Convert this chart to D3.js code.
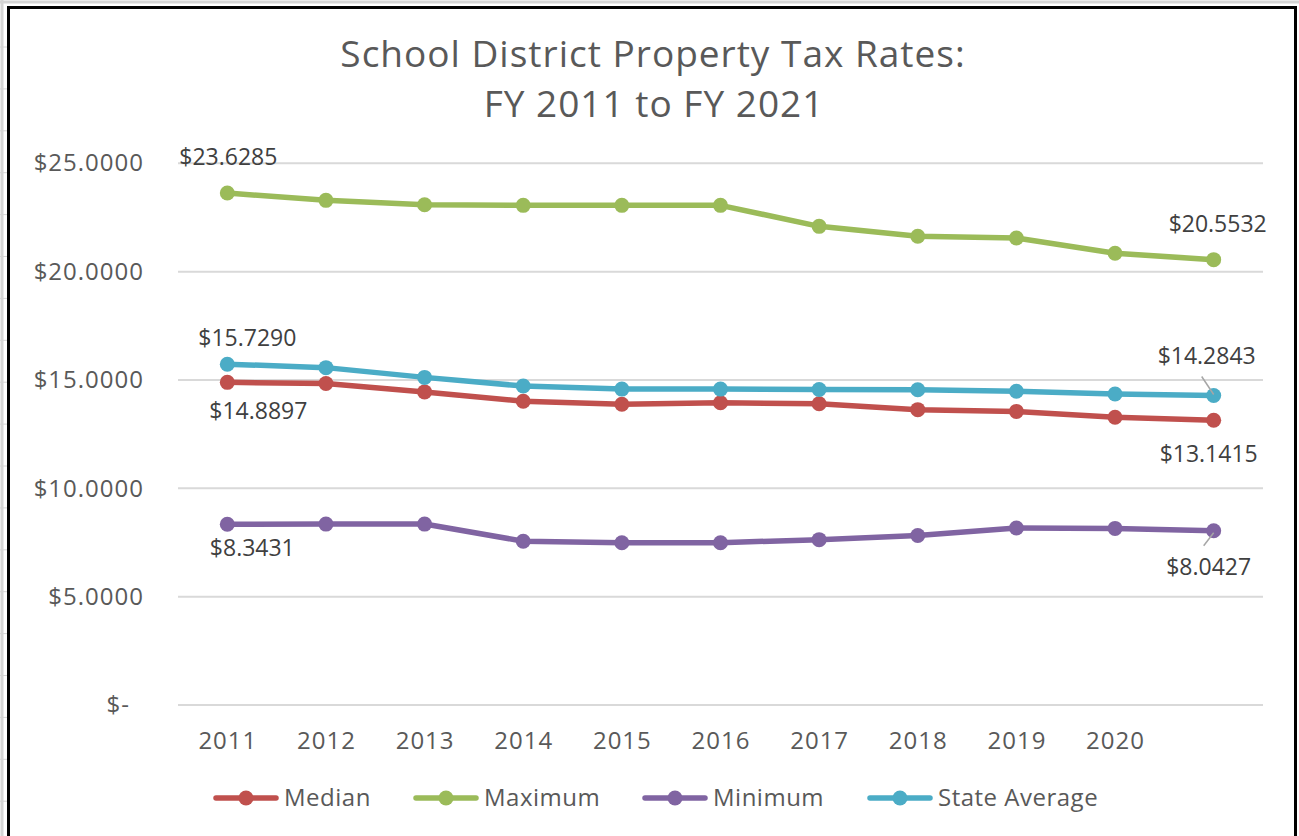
<!DOCTYPE html>
<html>
<head>
<meta charset="utf-8">
<script src="https://cdn.jsdelivr.net/npm/d3@7"></script>
<style>
  html, body { margin: 0; padding: 0; background: #fff; }
  svg { display: block; font-family: "Open Sans", "Liberation Sans", sans-serif; }
</style>
</head>
<body>
<div id="chart"></div>
<script>
// Data
const years = ['2011', '2012', '2013', '2014', '2015', '2016', '2017', '2018', '2019', '2020', '2021'];
const yTicks = [0, 5, 10, 15, 20, 25];

const median   = [14.8897, 14.84, 14.45, 14.02, 13.88, 13.95, 13.90, 13.63, 13.55, 13.28, 13.1415];
const maximum  = [23.6285, 23.29, 23.09, 23.06, 23.06, 23.06, 22.09, 21.63, 21.55, 20.85, 20.5532];
const minimum  = [8.3431, 8.35, 8.35, 7.56, 7.49, 7.49, 7.63, 7.82, 8.17, 8.15, 8.0427];
const stateAvg = [15.7290, 15.57, 15.12, 14.72, 14.58, 14.58, 14.56, 14.55, 14.48, 14.35, 14.2843];

const seriesNames = ['Median', 'Maximum', 'Minimum', 'State Average'];
const seriesValues = [median, maximum, minimum, stateAvg];
const seriesColors = ['#C0504D', '#9BBB59', '#8064A2', '#4BACC6'];

// Data labels: which series / point, with offset from the point
const labels = [
  { s: 1, i: 0,  dx: 1,  dy: -28 },
  { s: 3, i: 0,  dx: 20, dy: -18 },
  { s: 0, i: 0,  dx: 31, dy: 37 },
  { s: 2, i: 0,  dx: 25, dy: 32 },
  { s: 1, i: 10, dx: 4,  dy: -28 },
  { s: 3, i: 10, dx: -7, dy: -31, leader: [[-12, -19], [0, -1]] },
  { s: 0, i: 10, dx: -5, dy: 42 },
  { s: 2, i: 10, dx: -5, dy: 44, leader: [[0, 2], [-10, 15]] }
];

const width = 1299;
const height = 836;
const plot = { left: 178, right: 1263, top: 163.3, bottom: 705 };

const svg = d3.select('#chart')
  .append('svg')
  .attr('width', width)
  .attr('height', height);

// spreadsheet edge behind the chart frame
svg.append('rect').attr('x', 0).attr('y', 0).attr('width', width).attr('height', height).attr('fill', '#fff');
svg.append('line').attr('x1', 2).attr('x2', 2).attr('y1', 0).attr('y2', height)
  .attr('stroke', '#d4d4d4').attr('stroke-width', 3);
svg.append('line').attr('x1', 0).attr('x2', width).attr('y1', 2).attr('y2', 2)
  .attr('stroke', '#d4d4d4').attr('stroke-width', 3);
d3.range(47, height, 41.9).forEach(y => {
  svg.append('line').attr('x1', 0).attr('x2', 7).attr('y1', y).attr('y2', y)
    .attr('stroke', '#d4d4d4').attr('stroke-width', 1);
});

// chart frame
svg.append('rect')
  .attr('x', 8.5).attr('y', 7.5)
  .attr('width', 1287).attr('height', height + 10)
  .attr('fill', '#fff')
  .attr('stroke', '#000')
  .attr('stroke-width', 3);

// Title
const title = svg.append('text')
  .attr('text-anchor', 'middle')
  .attr('fill', '#595959')
  .attr('font-size', '37px')
  .attr('letter-spacing', '1px');
title.append('tspan').attr('x', 653).attr('y', 67).text('School District Property Tax Rates:');
title.append('tspan').attr('x', 654).attr('y', 117).text('FY 2011 to FY 2021');

// Scales
const x = d3.scalePoint()
  .domain(years)
  .range([plot.left, plot.right])
  .padding(0.5);

const y = d3.scaleLinear()
  .domain([0, 25])
  .range([plot.bottom, plot.top]);

// Gridlines
svg.append('g')
  .selectAll('line')
  .data(yTicks)
  .enter()
  .append('line')
  .attr('x1', plot.left)
  .attr('x2', plot.right)
  .attr('y1', d => y(d))
  .attr('y2', d => y(d))
  .attr('stroke', '#d9d9d9')
  .attr('stroke-width', 2);

// Y axis labels
const yAxis = svg.append('g')
  .attr('transform', `translate(${plot.left}, 0)`)
  .call(d3.axisLeft(y)
    .tickValues(yTicks)
    .tickSize(0)
    .tickPadding(34)
    .tickFormat(d => d === 0 ? '$-' : '$' + d3.format('.4f')(d)));
yAxis.select('.domain').remove();
yAxis.selectAll('text')
  .attr('fill', '#595959')
  .attr('font-size', '24px')
  .attr('letter-spacing', '1px')
  .attr('font-family', '"Open Sans", sans-serif');
yAxis.selectAll('.tick').filter(d => d === 0).select('text').attr('dx', -14);

// X axis labels (last category has no label in the reference)
const xAxis = svg.append('g')
  .attr('transform', `translate(0, ${plot.bottom})`)
  .call(d3.axisBottom(x)
    .tickValues(years.slice(0, 10))
    .tickSize(0)
    .tickPadding(27));
xAxis.select('.domain').remove();
xAxis.selectAll('text')
  .attr('fill', '#595959')
  .attr('font-size', '24px')
  .attr('letter-spacing', '1px')
  .attr('font-family', '"Open Sans", sans-serif');

// Lines and markers
const line = d3.line()
  .x((d, i) => x(years[i]))
  .y(d => y(d));

seriesValues.forEach((vals, s) => {
  svg.append('path')
    .datum(vals)
    .attr('d', line)
    .attr('fill', 'none')
    .attr('stroke', seriesColors[s])
    .attr('stroke-width', 5.5)
    .attr('stroke-linejoin', 'round')
    .attr('stroke-linecap', 'round');

  svg.selectAll('.pt-' + s)
    .data(vals)
    .enter()
    .append('circle')
    .attr('cx', (d, i) => x(years[i]))
    .attr('cy', d => y(d))
    .attr('r', 7.5)
    .attr('fill', seriesColors[s]);
});

// Data labels
labels.forEach(l => {
  const v = seriesValues[l.s][l.i];
  const px = x(years[l.i]);
  const py = y(v);
  if (l.leader) {
    svg.append('line')
      .attr('x1', px + l.leader[0][0]).attr('y1', py + l.leader[0][1])
      .attr('x2', px + l.leader[1][0]).attr('y2', py + l.leader[1][1])
      .attr('stroke', '#a6a6a6')
      .attr('stroke-width', 1.5);
  }
  svg.append('text')
    .attr('x', px + l.dx)
    .attr('y', py + l.dy)
    .attr('text-anchor', 'middle')
    .attr('fill', '#404040')
    .attr('font-size', '23px')
    .text('$' + d3.format('.4f')(v));
});

// Legend
const legendX = [213, 413, 642, 867];
const legend = svg.append('g').attr('transform', 'translate(0, 798)');
seriesNames.forEach((name, s) => {
  const g = legend.append('g').attr('transform', `translate(${legendX[s]}, 0)`);
  g.append('line')
    .attr('x1', 3).attr('x2', 63)
    .attr('y1', 0).attr('y2', 0)
    .attr('stroke', seriesColors[s])
    .attr('stroke-width', 5.5)
    .attr('stroke-linecap', 'round');
  g.append('circle')
    .attr('cx', 33).attr('cy', 0).attr('r', 7.5)
    .attr('fill', seriesColors[s]);
  g.append('text')
    .attr('x', 71)
    .attr('y', 0)
    .attr('dy', '0.35em')
    .attr('fill', '#595959')
    .attr('font-size', '24px')
    .attr('letter-spacing', '0.5px')
    .text(name);
});
</script>
</body>
</html>
